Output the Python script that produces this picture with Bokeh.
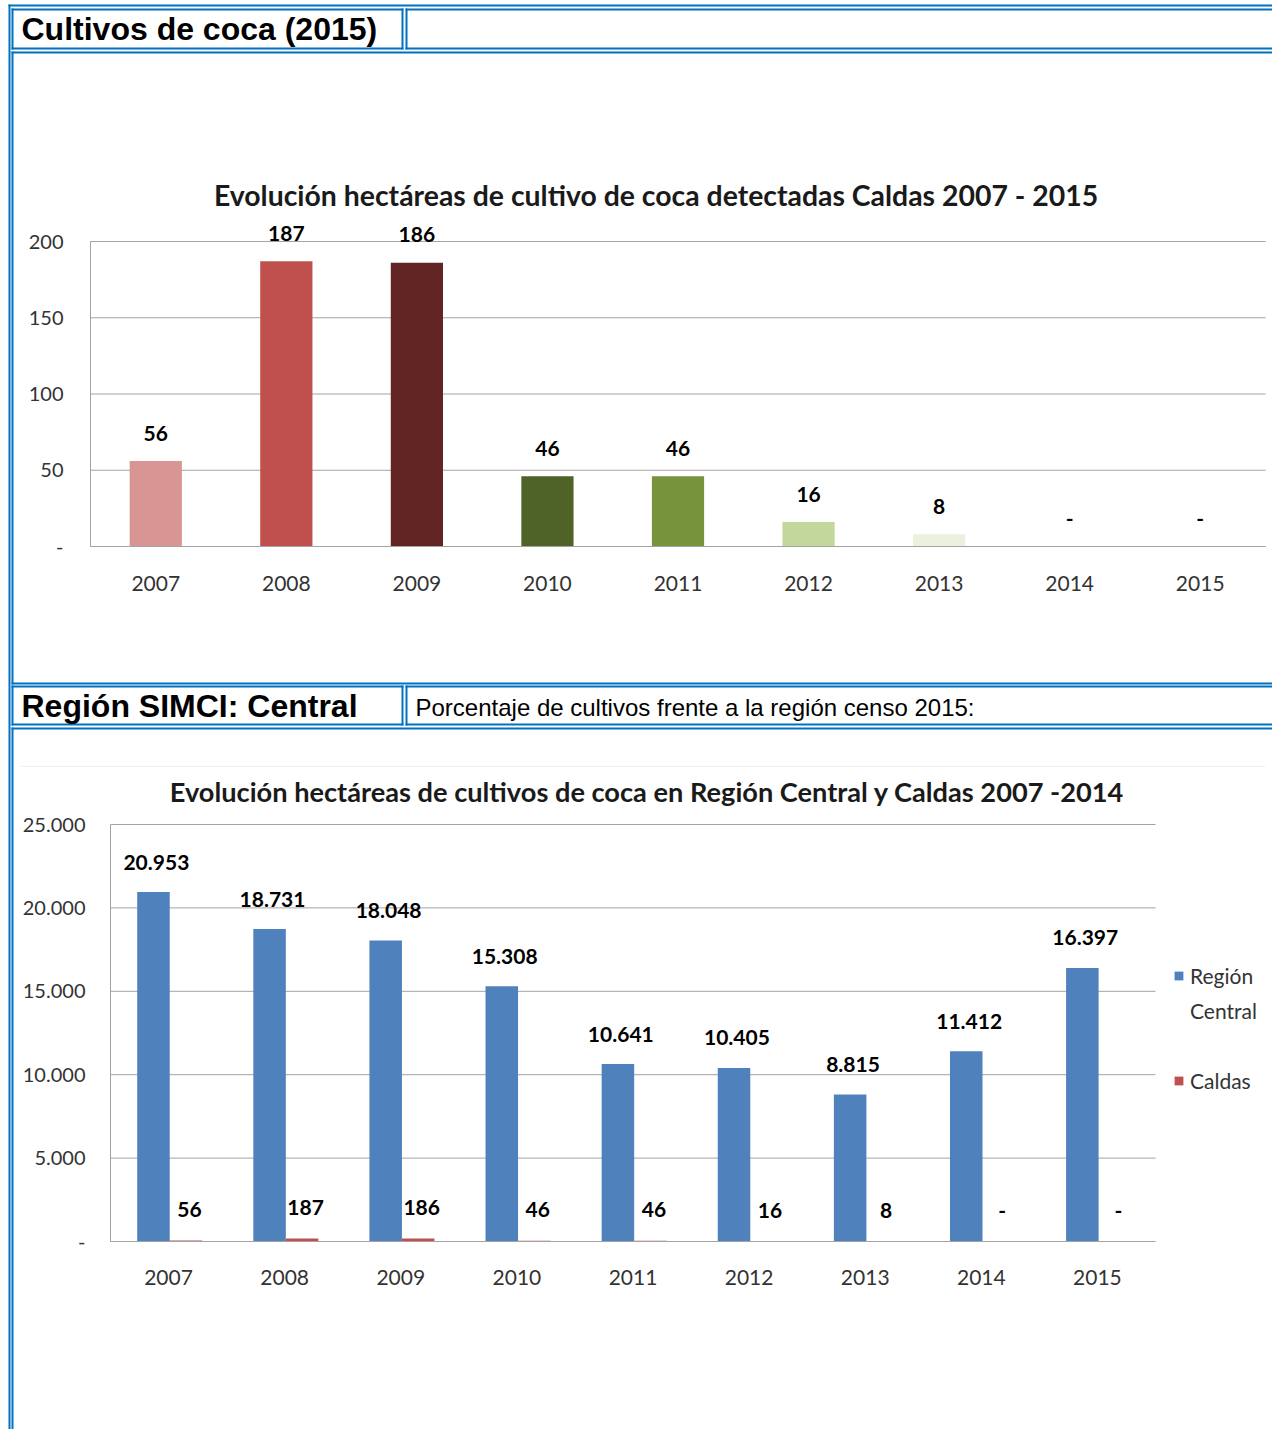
from bokeh.plotting import figure
from bokeh.models import (Range1d, FixedTicker, ColumnDataSource, Legend,
                          LegendItem, LinearAxis)
from bokeh.transform import dodge
from bokeh.core.properties import value
from bokeh.embed import file_html
from bokeh.resources import INLINE

# ---------------- data ----------------
header_1 = "Cultivos de coca (2015)"
header_2 = "Región SIMCI: Central"
header_2_note = "Porcentaje de cultivos frente a la región censo 2015:"
chart1_title = "Evolución hectáreas de cultivo de coca detectadas Caldas 2007 - 2015"
chart2_title = "Evolución hectáreas de cultivos de coca en Región Central  y Caldas 2007 -2014"

years = ["2007", "2008", "2009", "2010", "2011", "2012", "2013", "2014", "2015"]
caldas_ha = [56, 187, 186, 46, 46, 16, 8, 0, 0]
caldas_labels = ["56", "187", "186", "46", "46", "16", "8", "-", "-"]
central_ha = [20953, 18731, 18048, 15308, 10641, 10405, 8815, 11412, 16397]
central_labels = ["20.953", "18.731", "18.048", "15.308", "10.641",
                  "10.405", "8.815", "11.412", "16.397"]
y1_ticks = [0, 50, 100, 150, 200]
y1_tick_labels = ["-", "50", "100", "150", "200"]
y2_ticks = [0, 5000, 10000, 15000, 20000, 25000]
y2_tick_labels = ["-", "5.000", "10.000", "15.000", "20.000", "25.000"]
series_names = ["Región Central", "Caldas"]

# ---------------- styles / layout constants ----------------
W, H = 1272, 1429
BORDER = "#0070C0"
GRID = "#a3a3a3"
TICK_TXT = "#333333"
bar1_colors = ["#D99594", "#C0504D", "#632523", "#4F6228", "#77933C",
               "#C3D69B", "#EBF1DE", "#FFFFFF", "#FFFFFF"]
BLUE = "#4F81BD"
RED = "#C0504D"
FONT = "Lato"
HFONT = "Liberation Sans"

# pixel anchors of the two plot areas on the page
C1_LEFT, C1_RIGHT, C1_BOTTOM, C1_TOP = 90, 1265, 546, 241
C2_LEFT, C2_RIGHT, C2_BOTTOM, C2_TOP = 110, 1155, 1241, 824

n = len(years)
xpos = [i + 0.5 for i in range(n)]  # category centres


def lin_range(v0, px0, v1, px1, lo_px, hi_px):
    k = (v1 - v0) / (px1 - px0)
    return Range1d(start=v0 + (lo_px - px0) * k, end=v0 + (hi_px - px0) * k)


def outline(x0, x1, y0, y1, t=2):
    return [(x0, x1, y0, y0 + t), (x0, x1, y1 - t, y1),
            (x0, x0 + t, y0, y1), (x1 - t, x1, y0, y1)]


rects = [(8, 1400, 4, 6), (8, 10, 4, 1600)]
rects += outline(11, 403, 8, 49)
rects += outline(405, 1400, 8, 49)
rects += outline(11, 1400, 51, 684)
rects += outline(11, 403, 685, 725)
rects += outline(405, 1400, 685, 725)
rects += outline(11, 1400, 727, 1600)
border_src = ColumnDataSource(dict(
    left=[r[0] for r in rects], right=[r[1] for r in rects],
    top=[r[2] for r in rects], bottom=[r[3] for r in rects]))

p = figure(width=W, height=H, x_range=Range1d(0, W), y_range=Range1d(H, 0),
           x_axis_location=None, y_axis_location=None,
           output_backend="svg", toolbar_location=None, min_border=0)
p.grid.visible = False
p.outline_line_color = None
p.background_fill_color = "white"
p.border_fill_color = "white"

p.extra_x_ranges = {
    "c1x": lin_range(0, C1_LEFT, n, C1_RIGHT, 0, W),
    "c2x": lin_range(0, C2_LEFT, n, C2_RIGHT, 0, W),
}
p.extra_y_ranges = {
    "c1y": lin_range(y1_ticks[0], C1_BOTTOM, y1_ticks[-1], C1_TOP, H, 0),
    "c2y": lin_range(y2_ticks[0], C2_BOTTOM, y2_ticks[-1], C2_TOP, H, 0),
}

# ---------------- page frame & headers ----------------
p.quad(left="left", right="right", top="top", bottom="bottom",
       source=border_src, fill_color=BORDER, line_color=None)
p.segment(x0=[20], y0=[766], x1=[1265], y1=[766], line_color="#f0f0f0",
          line_width=1)

p.text(x=[21], y=[28], text=[header_1], text_baseline="middle",
       text_align="left", text_font=value(HFONT), text_font_style="bold",
       text_font_size="32px", text_color="#000000")
p.text(x=[21], y=[705.5], text=[header_2], text_baseline="middle",
       text_align="left", text_font=value(HFONT), text_font_style="bold",
       text_font_size="32px", text_color="#000000")
p.text(x=[415], y=[707], text=[header_2_note], text_baseline="middle",
       text_align="left", text_font=value(HFONT),
       text_font_size="24px", text_color="#000000")

p.text(x=[655.5], y=[194], text=[chart1_title], text_baseline="middle",
       text_align="center", text_font=value(FONT), text_font_style="bold",
       text_font_size="28.4px", text_color="#1a1a1a")
p.text(x=[650], y=[791], text=[chart2_title], text_baseline="middle",
       text_align="center", text_font=value(FONT), text_font_style="bold",
       text_font_size="27.2px", text_color="#1a1a1a")


def add_axes(xr, yr, yticks, ylabels, ystand, xstand):
    ax = LinearAxis(x_range_name=xr, y_range_name=yr, fixed_location=0,
                    bounds=(0, n), ticker=FixedTicker(ticks=xpos),
                    major_label_overrides=dict(zip(xpos, years)))
    ay = LinearAxis(x_range_name=xr, y_range_name=yr, fixed_location=0,
                    bounds=(yticks[0], yticks[-1]),
                    ticker=FixedTicker(ticks=yticks),
                    major_label_overrides=dict(zip(yticks, ylabels)))
    for a in (ax, ay):
        a.major_tick_line_color = None
        a.minor_tick_line_color = None
        a.major_tick_in = 0
        a.major_tick_out = 0
        a.axis_line_color = GRID
        a.major_label_text_font = FONT
        a.major_label_text_color = TICK_TXT
    ay.major_label_text_font_size = "20px"
    ax.major_label_text_font_size = "21px"
    ay.major_label_standoff = ystand
    ax.major_label_standoff = xstand
    p.add_layout(ax, "below")
    p.add_layout(ay, "left")
    # horizontal gridlines across the plot area
    p.segment(x0=[0] * len(yticks), x1=[n] * len(yticks), y0=yticks,
              y1=yticks, line_color=GRID, line_width=1,
              x_range_name=xr, y_range_name=yr)


# ---------------- chart 1 ----------------
add_axes("c1x", "c1y", y1_ticks, y1_tick_labels, 27, 29)
p.vbar(x=xpos, top=caldas_ha, width=0.4, fill_color=bar1_colors,
       line_color=None, x_range_name="c1x", y_range_name="c1y")
p.text(x=xpos, y=caldas_ha, text=caldas_labels, y_offset=-28,
       text_align="center", text_baseline="middle", text_font=value(FONT),
       text_font_style="bold", text_font_size="21px", text_color="#000000",
       x_range_name="c1x", y_range_name="c1y")

# ---------------- chart 2 ----------------
src2 = ColumnDataSource(dict(x=xpos, central=central_ha, caldas=caldas_ha,
                             central_lbl=central_labels,
                             caldas_lbl=caldas_labels))
add_axes("c2x", "c2y", y2_ticks, y2_tick_labels, 25, 28)
r_c = p.vbar(x=dodge("x", -0.13), top="central", width=0.28, source=src2,
             fill_color=BLUE, line_color=None,
             x_range_name="c2x", y_range_name="c2y")
r_k = p.vbar(x=dodge("x", 0.15), top="caldas", width=0.28, source=src2,
             fill_color=RED, line_color=None,
             x_range_name="c2x", y_range_name="c2y")
ghost = p.vbar(x=[], top=[], width=0.1, fill_color="white", fill_alpha=0,
               line_alpha=0)
p.text(x=dodge("x", -0.105), y="central", text="central_lbl", source=src2,
       y_offset=-30, text_align="center", text_baseline="middle",
       text_font=value(FONT), text_font_style="bold", text_font_size="21px",
       text_color="#000000", x_range_name="c2x", y_range_name="c2y")
p.text(x=dodge("x", 0.18), y="caldas", text="caldas_lbl", source=src2,
       y_offset=-31, text_align="center", text_baseline="middle",
       text_font=value(FONT), text_font_style="bold", text_font_size="21px",
       text_color="#000000", x_range_name="c2x", y_range_name="c2y")

reg_words = series_names[0].split()
legend = Legend(items=[
    LegendItem(label=reg_words[0], renderers=[r_c]),
    LegendItem(label=reg_words[1], renderers=[ghost]),
    LegendItem(label="\u00a0", renderers=[ghost]),
    LegendItem(label=series_names[1], renderers=[r_k]),
], location=(1173, 336), glyph_width=11, glyph_height=11, label_height=26,
    label_standoff=6, spacing=9, padding=0, margin=0,
    border_line_color=None, background_fill_alpha=0,
    label_text_font=FONT, label_text_font_size="21px",
    label_text_color=TICK_TXT)
p.add_layout(legend)

open("out.html", "w").write(file_html(p, INLINE))
